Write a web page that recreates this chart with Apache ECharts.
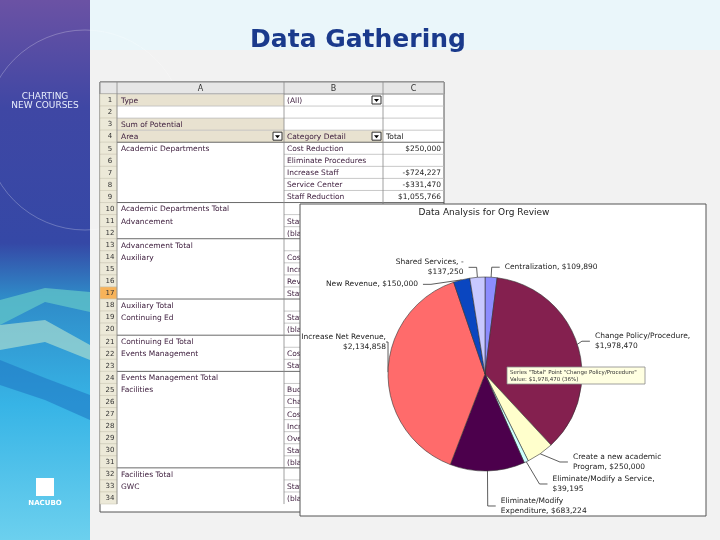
<!DOCTYPE html>
<html>
<head>
<meta charset="UTF-8">
<title>Data Gathering</title>
<script src="https://cdn.jsdelivr.net/npm/echarts@6/dist/echarts.min.js"></script>
<style>html,body{margin:0;padding:0;background:#f2f2f2}</style>
</head>
<body>
<div id="main" style="width:720px;height:540px;"></div>
<script>
// pie data, clockwise from the top
var pieNames = ['Centralization', 'Change Policy/Procedure', 'Create a new academic\nProgram', 'Eliminate/Modify a Service', 'Eliminate/Modify\nExpenditure', 'Increase Net Revenue', 'New Revenue', 'Shared Services, -'];
var pieValues = [109890, 1978470, 250000, 39195, 683224, 2134858, 150000, 137250];
var pieColors = ['#8c8cff', '#84204f', '#ffffcc', '#ccffff', '#4c004c', '#ff6b6b', '#0a46c0', '#c8c8ff'];

// spreadsheet rows 1..34
var colA = ['Type', '', 'Sum of Potential', 'Area', 'Academic Departments', '', '', '', '', 'Academic Departments Total', 'Advancement', '', 'Advancement Total', 'Auxiliary', '', '', '', 'Auxiliary Total', 'Continuing Ed', '', 'Continuing Ed Total', 'Events Management', '', 'Events Management Total', 'Facilities', '', '', '', '', '', '', 'Facilities Total', 'GWC', ''];
var colB = ['(All)', '', '', 'Category Detail', 'Cost Reduction', 'Eliminate Procedures', 'Increase Staff', 'Service Center', 'Staff Reduction', '', 'Staff Reduction', '(blank)', '', 'Cost Reduction', 'Increase Staff', 'Revenue', 'Staff Reduction', '', 'Staff Reduction', '(blank)', '', 'Cost Reduction', 'Staff Reduction', '', 'Budget', 'Change Policy', 'Cost Reduction', 'Increase Staff', 'Overtime', 'Staff Reduction', '(blank)', '', 'Staff Reduction', '(blank)'];
var colC = ['', '', '', 'Total', '$250,000', '', '-$724,227', '-$331,470', '$1,055,766'];
var totalRows = [10, 13, 18, 21, 24, 32];

function money(v) { return '$' + v.toLocaleString('en-US'); }

var chart = echarts.init(document.getElementById('main'));
var g = [];

// slide background
g.push({ type: 'rect', z: 0, shape: { x: 90, y: 0, width: 630, height: 50 }, style: { fill: '#eaf6fa' } });
g.push({ type: 'rect', z: 0, shape: { x: 0, y: 0, width: 90, height: 540 },
  style: { fill: new echarts.graphic.LinearGradient(0, 0, 0, 1, [
    { offset: 0, color: '#6b52a4' }, { offset: 0.2, color: '#3f47a4' }, { offset: 0.45, color: '#3548a6' },
    { offset: 0.55, color: '#2f8bc8' }, { offset: 0.75, color: '#37b4e6' }, { offset: 1, color: '#6cd0ee' }]) } });
g.push({ type: 'polygon', z: 0, shape: { points: [[0, 300], [45, 288], [90, 292], [90, 312], [45, 302], [0, 325]] }, style: { fill: '#5fc2c8', opacity: 0.8 } });
g.push({ type: 'polygon', z: 0, shape: { points: [[0, 325], [45, 320], [90, 345], [90, 360], [45, 342], [0, 350]] }, style: { fill: '#a6dcd0', opacity: 0.7 } });
g.push({ type: 'polygon', z: 0, shape: { points: [[0, 360], [45, 378], [90, 395], [90, 420], [45, 400], [0, 385]] }, style: { fill: '#1f78c4', opacity: 0.6 } });
g.push({ type: 'circle', z: 0, shape: { cx: 85, cy: 130, r: 100 }, style: { fill: 'none', stroke: 'rgba(255,255,255,0.25)', lineWidth: 1 } });
g.push({ type: 'text', z: 1, x: 45, y: 92, style: { text: 'CHARTING\nNEW COURSES', fill: '#e8eefc', font: '9px "DejaVu Sans"', align: 'center', lineHeight: 9 } });
g.push({ type: 'rect', z: 1, shape: { x: 36, y: 478, width: 18, height: 18 }, style: { fill: '#ffffff' } });
g.push({ type: 'text', z: 1, x: 45, y: 500, style: { text: 'NACUBO', fill: '#ffffff', font: 'bold 7px "DejaVu Sans"', align: 'center' } });

// title
g.push({ type: 'text', z: 1, x: 358, y: 28, style: { text: 'Data Gathering', fill: '#1a3a8c', font: 'bold 25px "DejaVu Sans"', align: 'center' } });

// spreadsheet
var sx = [100, 117, 284, 383, 444], sTop = 82, rh = 12.06;
g.push({ type: 'rect', z: 1, shape: { x: 100, y: sTop, width: 344, height: 430 }, style: { fill: '#ffffff', stroke: '#555', lineWidth: 1 } });
g.push({ type: 'rect', z: 1, shape: { x: 100, y: sTop, width: 344, height: 12 }, style: { fill: '#e6e6e6', stroke: '#888' } });
['A', 'B', 'C'].forEach(function (c, i) {
  g.push({ type: 'text', z: 2, x: (sx[i + 1] + sx[i + 2]) / 2, y: sTop + 3, style: { text: c, fill: '#333', font: '8px "DejaVu Sans"', align: 'center' } });
});
for (var r = 0; r < 34; r++) {
  var y = sTop + 12 + r * rh, n = r + 1;
  g.push({ type: 'rect', z: 1, shape: { x: 100, y: y, width: 17, height: rh }, style: { fill: n === 17 ? '#f7b35a' : '#ece9d8', stroke: '#c8c4b0', lineWidth: 0.5 } });
  g.push({ type: 'text', z: 2, x: 110, y: y + 3, style: { text: String(n), fill: '#333', font: '7px "DejaVu Sans"', align: 'center' } });
  var shadeA = (n === 1 || n === 3 || n === 4);
  if (shadeA) g.push({ type: 'rect', z: 1, shape: { x: 117, y: y, width: 167, height: rh }, style: { fill: '#e8e2d0' } });
  if (n === 4) g.push({ type: 'rect', z: 1, shape: { x: 284, y: y, width: 99, height: rh }, style: { fill: '#e8e2d0' } });
  var isTotal = totalRows.indexOf(n) >= 0;
  g.push({ type: 'line', z: 2, shape: { x1: isTotal || shadeA || n === 5 || n === 2 ? 117 : 284, y1: y, x2: 444, y2: y }, style: { stroke: isTotal || n === 5 ? '#444' : '#bbb', lineWidth: 0.8 } });
  g.push({ type: 'text', z: 2, x: 121, y: y + 3, style: { text: colA[r], fill: '#3a1a3a', font: '7.5px "DejaVu Sans"' } });
  if (colB[r]) g.push({ type: 'text', z: 2, x: 287, y: y + 3, style: { text: colB[r], fill: '#3a1a3a', font: '7.5px "DejaVu Sans"' } });
  if (colC[r]) g.push({ type: 'text', z: 2, x: colC[r] === 'Total' ? 386 : 441, y: y + 3, style: { text: colC[r], fill: '#222', font: '7.5px "DejaVu Sans"', align: colC[r] === 'Total' ? 'left' : 'right' } });
  if (n === 1 || n === 4) {
    var bx = 372;
    g.push({ type: 'rect', z: 2, shape: { x: bx, y: y + 2, width: 9, height: 8 }, style: { fill: '#fff', stroke: '#333' } });
    g.push({ type: 'polygon', z: 3, shape: { points: [[bx + 2, y + 5], [bx + 7, y + 5], [bx + 4.5, y + 8]] }, style: { fill: '#000' } });
    if (n === 4) {
      g.push({ type: 'rect', z: 2, shape: { x: 273, y: y + 2, width: 9, height: 8 }, style: { fill: '#fff', stroke: '#333' } });
      g.push({ type: 'polygon', z: 3, shape: { points: [[275, y + 5], [280, y + 5], [277.5, y + 8]] }, style: { fill: '#000' } });
    }
  }
}
[117, 284, 383].forEach(function (x) {
  g.push({ type: 'line', z: 2, shape: { x1: x, y1: sTop, x2: x, y2: sTop + 12 + 34 * rh }, style: { stroke: '#888', lineWidth: 0.8 } });
});

// chart panel
g.push({ type: 'rect', z: 5, shape: { x: 300, y: 204, width: 406, height: 312 }, style: { fill: '#ffffff', stroke: '#555', lineWidth: 1 } });
g.push({ type: 'text', z: 6, x: 484, y: 208, style: { text: 'Data Analysis for Org Review', fill: '#222', font: '9px "DejaVu Sans"', align: 'center' } });
// tooltip box
g.push({ type: 'rect', z: 20, shape: { x: 507, y: 367, width: 138, height: 17 }, style: { fill: '#ffffe1', stroke: '#888', lineWidth: 0.8 } });
g.push({ type: 'text', z: 21, x: 510, y: 369, style: { text: 'Series "Total" Point "Change Policy/Procedure"\nValue: $1,978,470 (36%)', fill: '#333', font: '5.5px "DejaVu Sans"', lineHeight: 7 } });

var pieData = pieNames.map(function (n, i) {
  return { name: n, value: pieValues[i], itemStyle: { color: pieColors[i] } };
});

chart.setOption({
  animation: false,
  graphic: g,
  series: [{
    type: 'pie', z: 10,
    center: [485, 374], radius: 97,
    startAngle: 90, clockwise: true,
    data: pieData,
    itemStyle: { borderColor: '#333', borderWidth: 0.6 },
    label: {
      formatter: function (p) {
        var v = money(p.value);
        if (p.name === 'Shared Services, -') return 'Shared Services, -\n' + v;
        if (p.name === 'Change Policy/Procedure' || p.name === 'Increase Net Revenue' || p.name === 'Eliminate/Modify a Service') return p.name + ',\n' + v;
        return p.name + ', ' + v;
      },
      color: '#222', fontSize: 7.5, fontFamily: 'DejaVu Sans', lineHeight: 10
    },
    labelLayout: function (p) {
      if (p.dataIndex === 5) return { x: 386, y: 342, align: 'right' };
    },
    labelLine: { length: 10, length2: 8, lineStyle: { color: '#333', width: 0.8 } },
    emphasis: { disabled: true }
  }]
});
</script>
</body>
</html>
